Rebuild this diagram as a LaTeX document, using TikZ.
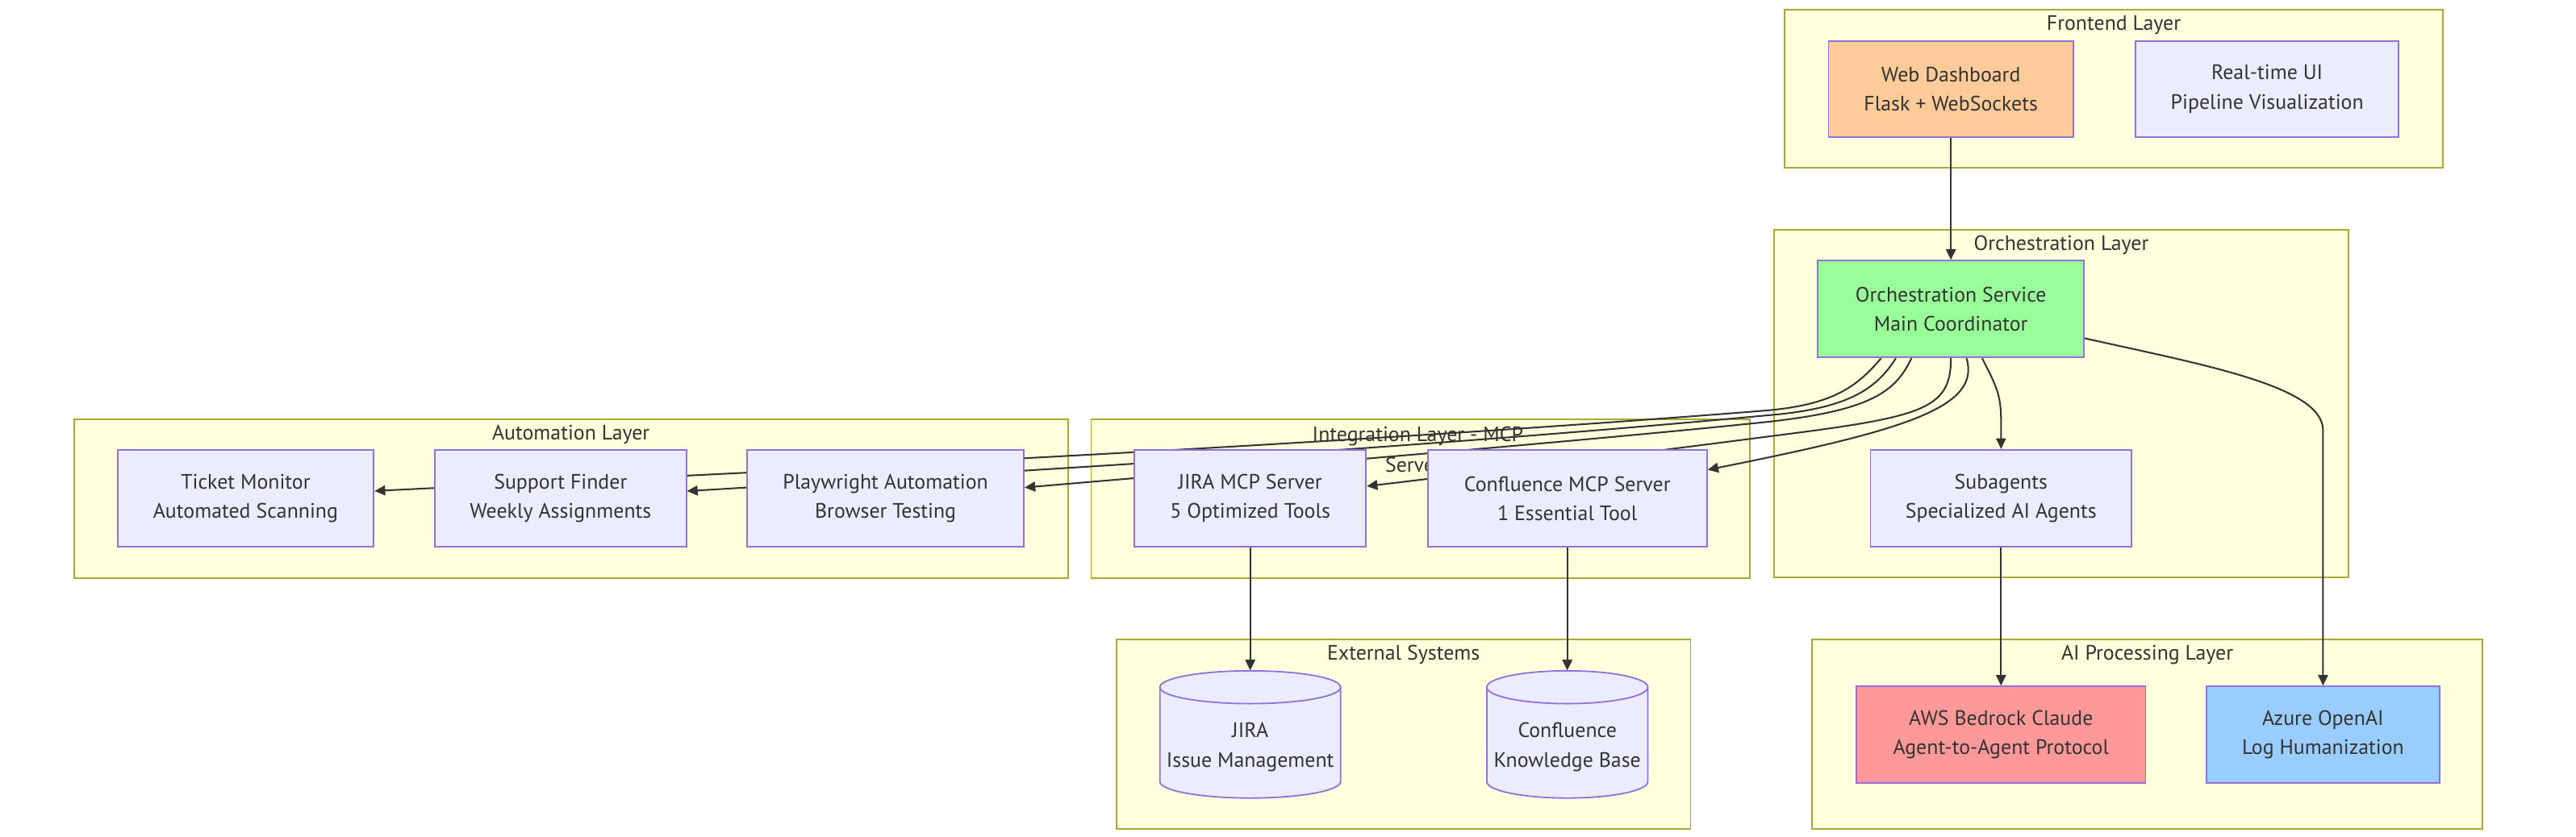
\documentclass[tikz,border=0pt]{standalone}
\usepackage{fontspec}
\setmainfont{PT Sans}
\usetikzlibrary{arrows.meta}
\definecolor{txt}{HTML}{333333}
\definecolor{clfill}{HTML}{FFFFDE}
\definecolor{clstroke}{HTML}{AAAA33}
\definecolor{ndfill}{HTML}{ECECFF}
\definecolor{ndstroke}{HTML}{9370DB}
\definecolor{peach}{HTML}{FFCC99}
\definecolor{lgreen}{HTML}{99FF99}
\definecolor{lred}{HTML}{FF9999}
\definecolor{lblue}{HTML}{99CCFF}
\pgfdeclarelayer{bg}
\pgfdeclarelayer{edgelayer}
\pgfsetlayers{bg,edgelayer,main}
\begin{document}
\begin{tikzpicture}[x=1pt,y=-1pt,
  nodebox/.style={draw=ndstroke, fill=ndfill, line width=0.9pt, minimum height=59pt,
    align=center, text=txt, font=\fontsize{12.7}{17.8}\selectfont, inner sep=0pt},
  cylnode/.style={minimum height=77.5pt, inner sep=0pt},
  cyltext/.style={align=center, text=txt, font=\fontsize{12.7}{17.8}\selectfont, inner sep=0pt},
  cylshape/.style={draw=ndstroke, fill=ndfill, line width=0.9pt},
  cluster/.style={draw=clstroke, fill=clfill, line width=0.9pt},
  cltitle/.style={text=txt, font=\fontsize{12.7}{18.3}\selectfont, inner sep=0pt, align=center},
  edge/.style={draw=txt, line width=1pt, -{Triangle[length=6.5pt,width=6pt]}},
]
\useasboundingbox (0,0) rectangle (1568,509.7);

% clusters
\begin{pgfonlayer}{bg}
\fill[white] (0,0) rectangle (1568,509.7);
\draw[cluster] (1086.3,5.9) rectangle (1487,102.3);
\node[cltitle] (tfront) at (1286.6,15.2) {Frontend Layer};
\draw[cluster] (1080,139.8) rectangle (1429.5,351.6);
\node[cltitle] (torch) at (1254.7,149.1) {Orchestration Layer};
\draw[cluster] (45,255.4) rectangle (650,352);
\node[cltitle] (tauto) at (347.5,264.7) {Automation Layer};
\draw[cluster] (664.2,255.4) rectangle (1065,352);
\node[cltitle] (tint) at (863,273.8) {Integration Layer - MCP\\Servers};
\draw[cluster] (679.7,389.5) rectangle (1029,505);
\node[cltitle] (text) at (854.3,398.8) {External Systems};
\draw[cluster] (1103,389.5) rectangle (1511,505);
\node[cltitle] (tai) at (1307,398.8) {AI Processing Layer};
\end{pgfonlayer}

% nodes
\node[nodebox, fill=peach, minimum width=149pt, minimum height=58.5pt] (wd) at (1187.5,54.25) {Web Dashboard\\Flask + WebSockets};
\node[nodebox, minimum width=160pt, minimum height=58.5pt] (rt) at (1380,54.25) {Real-time UI\\Pipeline Visualization};
\node[nodebox, fill=lgreen, minimum width=162pt] (orch) at (1187.5,188.2) {Orchestration Service\\Main Coordinator};
\node[nodebox, minimum width=159pt] (sub) at (1218,303.4) {Subagents\\Specialized AI Agents};
\node[nodebox, minimum width=156pt] (tm) at (149.5,303.6) {Ticket Monitor\\Automated Scanning};
\node[nodebox, minimum width=153pt] (sf) at (341.2,303.6) {Support Finder\\Weekly Assignments};
\node[nodebox, minimum width=168.4pt] (pw) at (539,303.6) {Playwright Automation\\Browser Testing};
\node[nodebox, minimum width=141pt] (jmcp) at (761,303.6) {JIRA MCP Server\\5 Optimized Tools};
\node[nodebox, minimum width=170pt] (cmcp) at (954,303.6) {Confluence MCP Server\\1 Essential Tool};
\node[nodebox, fill=lred, minimum width=176pt] (aws) at (1218,447.5) {AWS Bedrock Claude\\Agent-to-Agent Protocol};
\node[nodebox, fill=lblue, minimum width=142pt] (az) at (1414,447.5) {Azure OpenAI\\Log Humanization};

% cylinders
\path[cylshape] (706,418.5) -- (706,476) arc[start angle=180, end angle=360, x radius=55pt, y radius=10pt] -- (816,418.5) arc[start angle=0, end angle=180, x radius=55pt, y radius=10pt] -- cycle;
\draw[cylshape, fill=none] (706,418.5) arc[start angle=180, end angle=360, x radius=55pt, y radius=10pt];
\node[cylnode, minimum width=110pt] (jira) at (761,447.25) {};
\node[cyltext] (jiratxt) at (761,455) {JIRA\\Issue Management};

\path[cylshape] (905,418.5) -- (905,476) arc[start angle=180, end angle=360, x radius=49pt, y radius=10pt] -- (1003,418.5) arc[start angle=0, end angle=180, x radius=49pt, y radius=10pt] -- cycle;
\draw[cylshape, fill=none] (905,418.5) arc[start angle=180, end angle=360, x radius=49pt, y radius=10pt];
\node[cylnode, minimum width=98pt] (conf) at (954,447.25) {};
\node[cyltext] (conftxt) at (954,455) {Confluence\\Knowledge Base};

% edges
\begin{pgfonlayer}{edgelayer}
\draw[edge] (wd.south) -- (orch.north);
\draw[edge] ([xshift=-42.5pt]orch.south) .. controls (1130,236) and (1115,246.5) .. (1075,250) .. controls (800,272) and (450,288) .. ([yshift=4.6pt]tm.east);
\draw[edge] ([xshift=-33.5pt]orch.south) .. controls (1142,237) and (1125,249) .. (1075,253) .. controls (850,274) and (600,288) .. ([yshift=4.5pt]sf.east);
\draw[edge] ([xshift=-24pt]orch.south) .. controls (1154,238) and (1140,250) .. (1075,257) .. controls (950,270) and (750,286) .. ([yshift=6.7pt]pw.east);
\draw[edge] (orch.south) .. controls (1187.5,250) and (1170,254) .. (1075,266) .. controls (1010,274.5) and (900,288) .. ([yshift=7.5pt]jmcp.east);
\draw[edge] ([xshift=9.5pt]orch.south) .. controls (1206,248) and (1160,262) .. ([yshift=17.5pt]cmcp.east);
\draw[edge] ([xshift=19pt]orch.south) .. controls (1215,235) and (1218,240) .. (1218,256) -- (sub.north);
\draw[edge] ([yshift=-17.8pt]orch.east) .. controls (1340,222) and (1414,235) .. (1414,262) -- (az.north);
\draw[edge] (sub.south) -- (aws.north);
\draw[edge] (jmcp.south) -- (jira.north);
\draw[edge] (cmcp.south) -- (conf.north);
\end{pgfonlayer}
\end{tikzpicture}
\end{document}
